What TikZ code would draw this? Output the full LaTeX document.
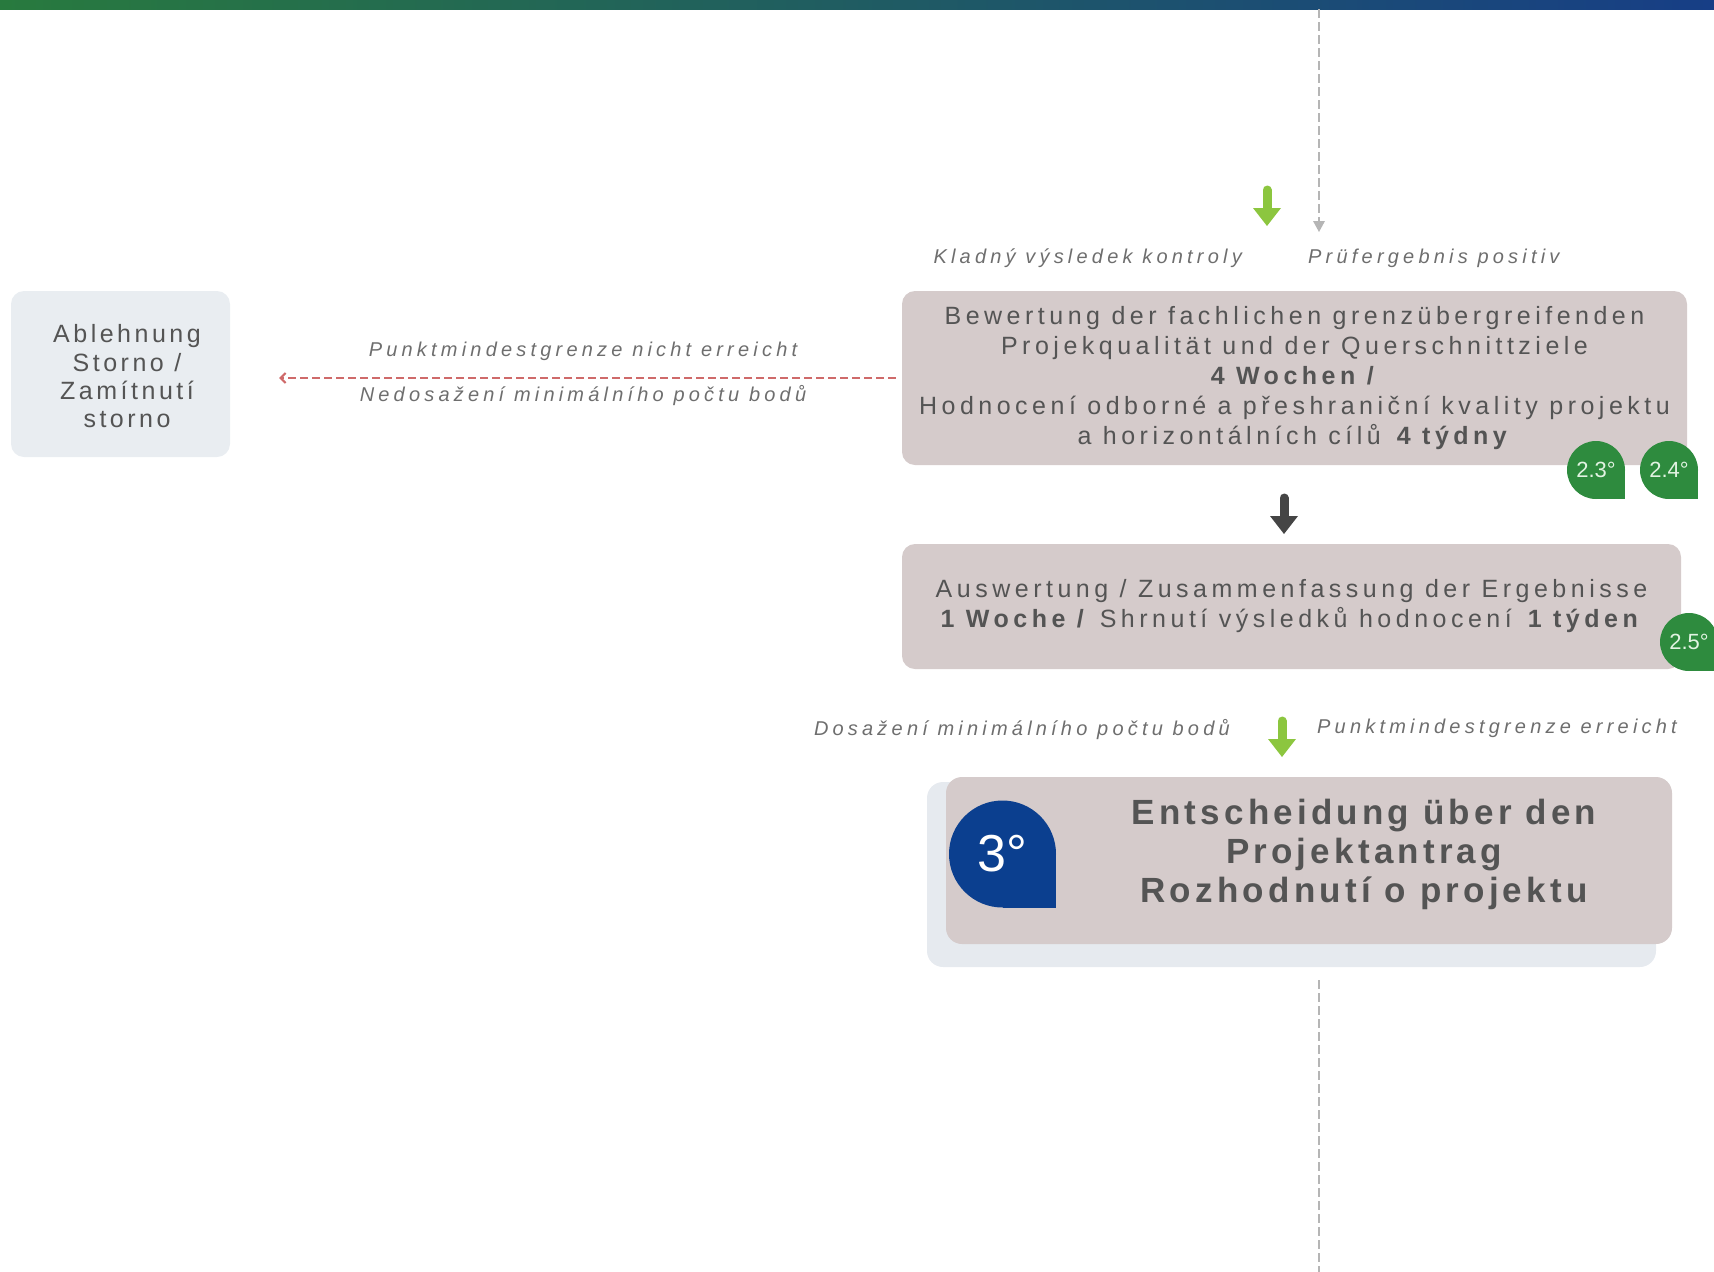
\documentclass[tikz,border=0pt]{standalone}
\usepackage{fontspec}
\setmainfont{Liberation Sans}
\usetikzlibrary{arrows.meta}

\definecolor{boxgrey}{HTML}{D5CBCB}
\definecolor{paleblue}{HTML}{E9EDF1}
\definecolor{shadowblue}{HTML}{E6EAEF}
\definecolor{textgrey}{HTML}{545454}
\definecolor{labelgrey}{HTML}{6E6E6E}
\definecolor{badgegreen}{HTML}{2E8B3E}
\definecolor{badgetext}{HTML}{E2F3E2}
\definecolor{badgeblue}{HTML}{0B3F8F}
\definecolor{arrowgreen}{HTML}{8CC63F}
\definecolor{arrowdark}{HTML}{454545}
\definecolor{dashgrey}{HTML}{B5B5B5}
\definecolor{rejectred}{HTML}{CF6A6A}
\definecolor{bargreen}{HTML}{287A3E}
\definecolor{barblue}{HTML}{173E86}

\tikzset{
  stepbox/.style={fill=boxgrey, rounded corners=13pt, inner sep=0pt},
  boxtext/.style={text=textgrey, align=center, inner sep=0pt,
    font=\fontsize{25}{30}\selectfont\addfontfeatures{LetterSpace=18}},
  pathlabel/.style={text=labelgrey, inner sep=0pt,
    font=\fontsize{20}{22}\selectfont\itshape\addfontfeatures{LetterSpace=21}},
  badge/.style={circle, fill=badgegreen, minimum size=58pt, inner sep=0pt,
    text=badgetext, font=\fontsize{22}{22}\selectfont},
  iconarrow/.style={line width=9pt, line cap=round,
    -{Triangle[width=28pt,length=18pt,line width=0pt]}},
  flowdash/.style={dashgrey, line width=2.5pt, dash pattern=on 9pt off 4pt},
  rejectline/.style={rejectred, line width=2pt, dash pattern=on 8pt off 4pt,
    -{Straight Barb[length=5pt,width=10pt]}},
}

\begin{document}
\begin{tikzpicture}[x=1pt,y=-1pt]
        \useasboundingbox (0,0) rectangle (1714,1272);
        {
        
        % Top bar
        \shade [left color=bargreen, right color=barblue] (0,0) rectangle (1714,9);%
        
        % Drawing incoming flow line
        \coordinate (flowin) at (1319,9);%
        \coordinate (flowinend) at (1319,232);%
        \draw [flowdash, -{Triangle[width=12pt,length=11pt,line width=0pt]}] (flowin) -- (flowinend);%
        
        % Green arrow above evaluation
        \coordinate (greentop) at (1267,190);%
        \coordinate (greentip) at (1267,226);%
        \draw [iconarrow, arrowgreen] (greentop) -- (greentip);%
        \node [pathlabel, anchor=east] (lblkladny) at (1242,258) {Kladný výsledek kontroly};%
        \node [pathlabel, anchor=west] (lblpositiv) at (1308,258) {Prüfergebnis positiv};%
        
        % Drawing box for rejection
        \node [stepbox, fill=paleblue, minimum width=219pt, minimum height=166pt] (reject) at (120.5,374) {};%
        \node [boxtext, font=\fontsize{25}{28.3}\selectfont\addfontfeatures{LetterSpace=14}] (rejecttext) at (127,376.5)
          {Ablehnung\\Storno /\\Zamítnutí\\storno};%
        
        % Drawing box for evaluation
        \node [stepbox, boxtext, minimum width=785pt, minimum height=174pt] (eval) at (1294.5,378)
          {Bewertung der fachlichen grenzübergreifenden\\
           Projekqualität und der Querschnittziele\\
           \textbf{4 Wochen /}\\
           Hodnocení odborné a přeshraniční kvality projektu\\
           a horizontálních cílů \textbf{4 týdny}};%
        
        % Marking badges 2.3 and 2.4
        \fill [badgegreen] (1596,470) rectangle (1625,499);%
        \node [badge] (b23) at (1596,470) {2.3°};%
        \fill [badgegreen] (1669,470) rectangle (1698,499);%
        \node [badge] (b24) at (1669,470) {2.4°};%
        
        % Drawing rejection line
        \draw [rejectline, shorten <=6pt, shorten >=49pt] (eval.west) -- (eval.west -| reject.east);%
        \node [pathlabel] (lblnicht) at (583,351) {Punktmindestgrenze nicht erreicht};%
        \node [pathlabel] (lblnedos) at (583,396) {Nedosažení minimálního počtu bodů};%
        
        % Dark arrow between evaluation and summary
        \coordinate (darktop) at (1284,498);%
        \coordinate (darktip) at (1284,534);%
        \draw [iconarrow, arrowdark] (darktop) -- (darktip);%
        
        % Drawing box for summary
        \node [stepbox, boxtext, minimum width=779pt, minimum height=125pt] (summary) at (1291.5,606.5)
          {Auswertung / Zusammenfassung der Ergebnisse\\
           \textbf{1 Woche /} Shrnutí výsledků hodnocení \textbf{1 týden}};%
        
        % Marking badge 2.5
        \fill [badgegreen] (1689,642) rectangle (1718,671);%
        \node [badge] (b25) at (1689,642) {2.5°};%
        
        % Green arrow above decision
        \coordinate (greentop2) at (1282,721);%
        \coordinate (greentip2) at (1282,757);%
        \draw [iconarrow, arrowgreen] (greentop2) -- (greentip2);%
        \node [pathlabel, anchor=east] (lbldosaz) at (1230,730) {Dosažení minimálního počtu bodů};%
        \node [pathlabel, anchor=west] (lblerreicht) at (1317,728) {Punktmindestgrenze erreicht};%
        
        % Drawing box for decision
        \node [stepbox, fill=shadowblue, rounded corners=16pt, minimum width=729pt, minimum height=185pt] (decshadow) at (1291.5,874.5) {};%
        \node [stepbox, rounded corners=16pt, minimum width=726pt, minimum height=167pt] (decision) at (1309,860.5) {};%
        \node [boxtext, font=\fontsize{35}{39}\selectfont\bfseries\addfontfeatures{LetterSpace=12}] (dectitle) at (1364,854)
          {Entscheidung über den\\Projektantrag\\Rozhodnutí o projektu};%
        
        % Marking badge 3
        \fill [badgeblue] (1002.5,854) rectangle (1056,907.5);%
        \node [badge, fill=badgeblue, minimum size=107pt, text=white, font=\fontsize{52}{52}\selectfont] (b3) at (1002.5,854) {3°};%
        
        % Drawing outgoing flow line
        \coordinate (flowout) at (1319,980);%
        \coordinate (flowoutend) at (1319,1272);%
        \draw [flowdash] (flowout) -- (flowoutend);%
        }
    \end{tikzpicture}
\end{document}
